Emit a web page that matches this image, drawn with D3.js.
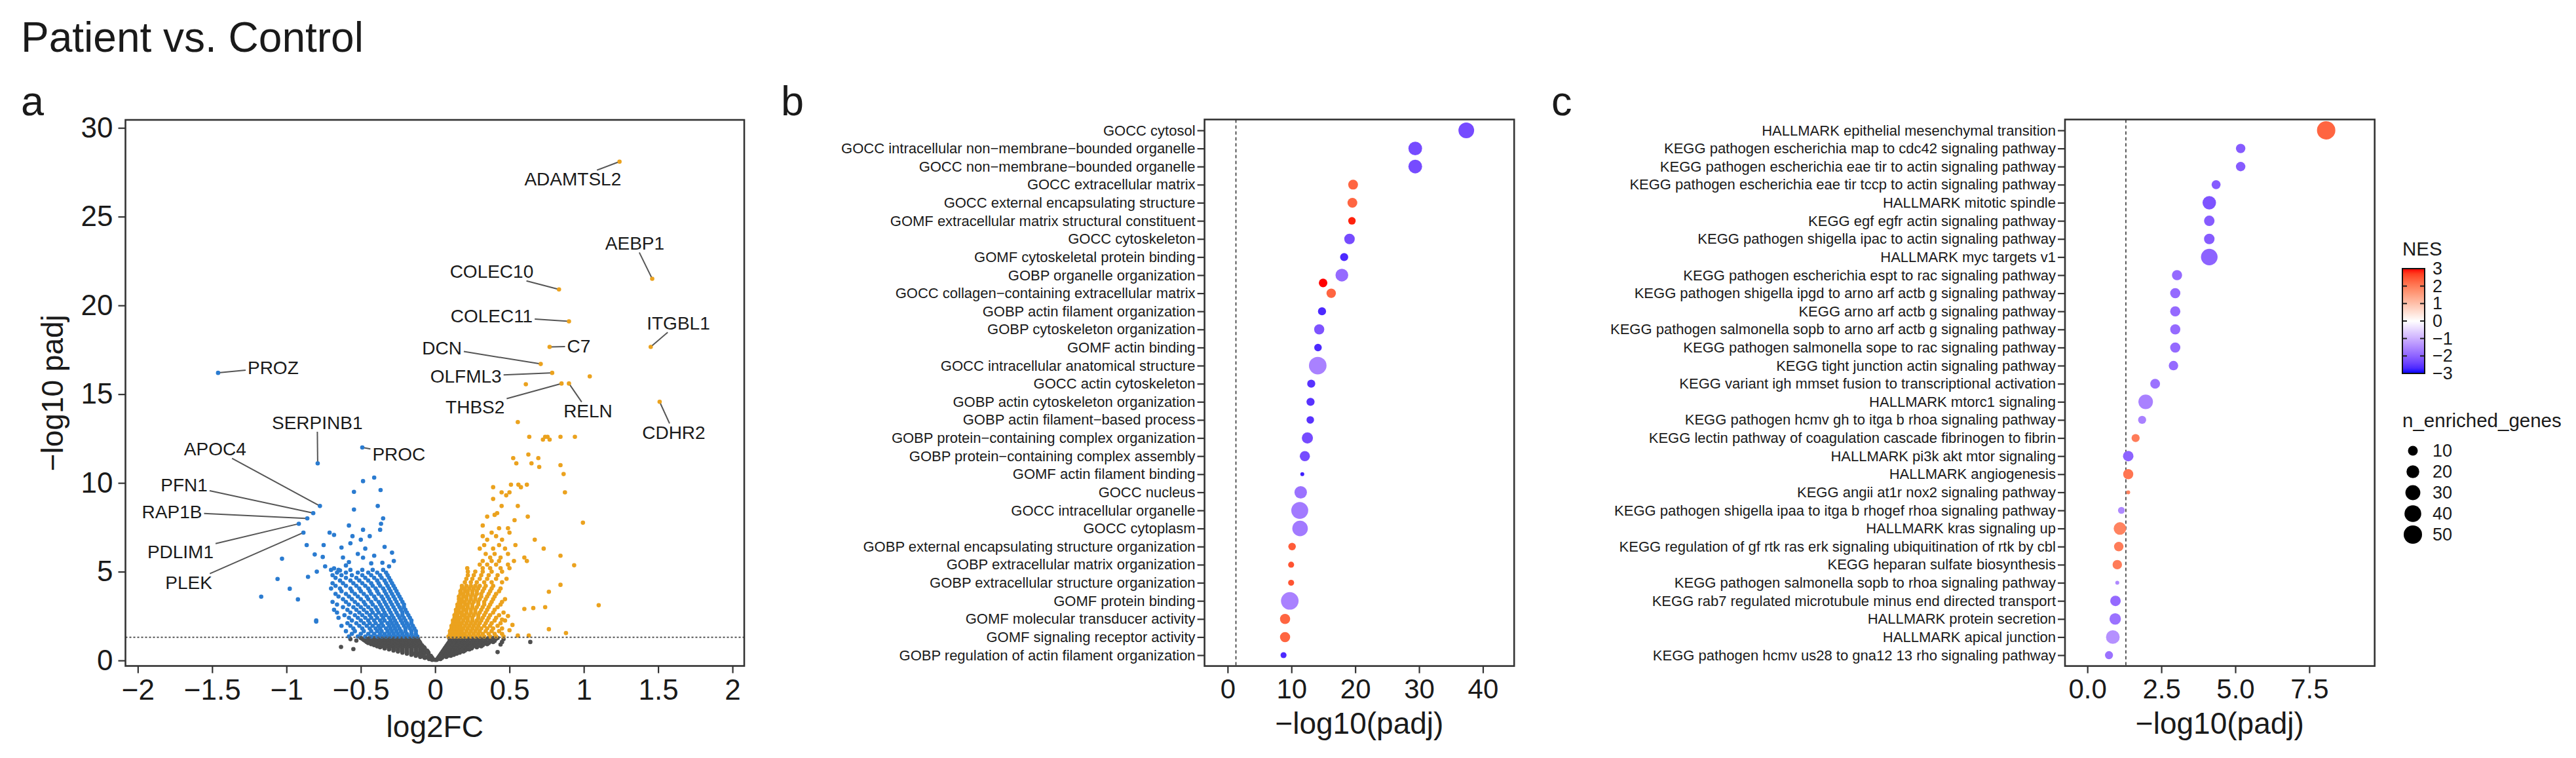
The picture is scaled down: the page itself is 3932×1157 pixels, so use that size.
<!DOCTYPE html>
<html><head><meta charset="utf-8">
<script src="https://cdn.jsdelivr.net/npm/d3@7/dist/d3.min.js"></script>
<style>
body{margin:0;background:#fff}
svg text{font-family:"Liberation Sans",Arial,Helvetica,sans-serif}
</style></head>
<body><svg id="chart" width="3932" height="1157"></svg>
<script>
// ======================= DATA =======================
// Panel a : volcano
const volcanoXTicks = [-2,-1.5,-1,-0.5,0,0.5,1,1.5,2];
const volcanoXTickLabels = ["−2","−1.5","−1","−0.5","0","0.5","1","1.5","2"];
const volcanoYTicks = [0,5,10,15,20,25,30];
const padjCut = 1.301;

// not significant (rows: -log10 padj, log2FC values)
const greyRows = [
 [0.03,[-0.02,0.01,0.0]],
 [0.08,[-0.04,-0.015,0.015,0.035]],
 [0.14,[-0.07,-0.045,-0.02,0.02,0.045]],
 [0.2,[-0.1,-0.075,-0.05,-0.025,0.025,0.05,0.075]],
 [0.26,[-0.13,-0.1,-0.075,-0.045,-0.03,0.03,0.06,0.085,0.105]],
 [0.32,[-0.16,-0.13,-0.105,-0.075,-0.045,0.035,0.065,0.095,0.125]],
 [0.38,[-0.19,-0.16,-0.135,-0.105,-0.075,-0.045,0.04,0.07,0.1,0.13,0.145]],
 [0.44,[-0.22,-0.19,-0.16,-0.13,-0.1,-0.07,-0.045,0.045,0.075,0.105,0.135,0.165]],
 [0.5,[-0.25,-0.22,-0.19,-0.16,-0.13,-0.1,-0.075,-0.05,0.05,0.08,0.11,0.14,0.17,0.19]],
 [0.56,[-0.28,-0.25,-0.22,-0.19,-0.16,-0.13,-0.1,-0.075,-0.055,0.055,0.085,0.115,0.145,0.175,0.2]],
 [0.62,[-0.31,-0.28,-0.25,-0.22,-0.19,-0.16,-0.13,-0.1,-0.075,0.06,0.09,0.12,0.15,0.18,0.21,0.23]],
 [0.68,[-0.34,-0.31,-0.28,-0.25,-0.22,-0.19,-0.16,-0.13,-0.1,-0.07,0.065,0.095,0.125,0.155,0.185,0.215,0.245]],
 [0.74,[-0.37,-0.34,-0.31,-0.28,-0.25,-0.22,-0.19,-0.16,-0.13,-0.1,-0.075,0.07,0.1,0.13,0.16,0.19,0.22,0.25,0.28]],
 [0.8,[-0.39,-0.36,-0.33,-0.3,-0.27,-0.24,-0.21,-0.18,-0.15,-0.12,-0.085,0.075,0.105,0.135,0.165,0.195,0.225,0.255,0.285,0.31]],
 [0.86,[-0.41,-0.38,-0.35,-0.32,-0.29,-0.26,-0.23,-0.2,-0.17,-0.14,-0.11,-0.09,0.08,0.11,0.14,0.17,0.2,0.23,0.26,0.29,0.32]],
 [0.92,[-0.43,-0.4,-0.37,-0.34,-0.31,-0.28,-0.25,-0.22,-0.19,-0.16,-0.13,-0.1,0.085,0.115,0.145,0.175,0.205,0.235,0.265,0.295,0.325,0.35]],
 [0.98,[-0.45,-0.42,-0.39,-0.36,-0.33,-0.3,-0.27,-0.24,-0.21,-0.18,-0.15,-0.12,-0.1,0.09,0.12,0.15,0.18,0.21,0.24,0.27,0.3,0.33,0.36]],
 [1.04,[-0.46,-0.43,-0.4,-0.37,-0.34,-0.31,-0.28,-0.25,-0.22,-0.19,-0.16,-0.13,-0.105,0.095,0.125,0.155,0.185,0.215,0.245,0.275,0.305,0.335,0.365,0.39]],
 [1.1,[-0.47,-0.44,-0.41,-0.38,-0.35,-0.32,-0.29,-0.26,-0.23,-0.2,-0.17,-0.14,-0.11,0.1,0.13,0.16,0.19,0.22,0.25,0.28,0.31,0.34,0.37,0.4]],
 [1.16,[-0.48,-0.45,-0.42,-0.39,-0.36,-0.33,-0.3,-0.27,-0.24,-0.21,-0.18,-0.15,-0.12,0.1,0.13,0.16,0.19,0.22,0.25,0.28,0.31,0.34,0.37,0.4]],
 [1.22,[-0.49,-0.46,-0.43,-0.4,-0.37,-0.34,-0.31,-0.28,-0.25,-0.22,-0.19,-0.16,-0.13,-0.115,0.1,0.13,0.16,0.19,0.22,0.25,0.28,0.31,0.34,0.37,0.41]],
 [1.27,[-0.5,-0.47,-0.44,-0.41,-0.38,-0.35,-0.32,-0.29,-0.26,-0.23,-0.2,-0.17,-0.14,-0.12,0.095,0.12,0.15,0.18,0.21,0.24,0.27,0.3,0.33,0.36,0.39,0.42]]
];
const greyExtra = [[-0.633,0.76],[-0.55,0.64],[0.45,1.04],[0.64,1.04],[0.42,0.47],[-0.53,1.12],[0.46,1.2],[-0.57,1.2],[0.44,0.9]];

// down-regulated (significant)
const blueRows = [
 [1.35,[-0.12,-0.15,-0.18,-0.21,-0.24,-0.27,-0.3,-0.33,-0.36,-0.39,-0.43,-0.47,-0.52,-0.58]],
 [1.5,[-0.13,-0.16,-0.19,-0.22,-0.25,-0.28,-0.31,-0.34,-0.37,-0.41,-0.45,-0.5,-0.56]],
 [1.65,[-0.13,-0.16,-0.2,-0.23,-0.26,-0.29,-0.32,-0.36,-0.39,-0.43,-0.48,-0.54,-0.6]],
 [1.8,[-0.14,-0.17,-0.2,-0.24,-0.27,-0.3,-0.33,-0.37,-0.4,-0.44,-0.49,-0.55]],
 [1.95,[-0.15,-0.18,-0.21,-0.25,-0.28,-0.31,-0.35,-0.38,-0.42,-0.46,-0.51,-0.57,-0.63]],
 [2.1,[-0.16,-0.19,-0.22,-0.26,-0.29,-0.32,-0.36,-0.4,-0.44,-0.48,-0.53,-0.59]],
 [2.25,[-0.16,-0.2,-0.23,-0.27,-0.3,-0.34,-0.37,-0.41,-0.45,-0.5,-0.56,-0.8]],
 [2.4,[-0.17,-0.21,-0.24,-0.28,-0.31,-0.35,-0.39,-0.43,-0.47,-0.52,-0.58,-0.65]],
 [2.55,[-0.18,-0.22,-0.25,-0.29,-0.33,-0.36,-0.4,-0.44,-0.49,-0.54,-0.61]],
 [2.7,[-0.19,-0.22,-0.26,-0.3,-0.34,-0.38,-0.42,-0.46,-0.51,-0.57,-0.66]],
 [2.85,[-0.2,-0.23,-0.27,-0.31,-0.35,-0.39,-0.43,-0.48,-0.53,-0.59,-0.68]],
 [3.0,[-0.21,-0.24,-0.28,-0.32,-0.36,-0.4,-0.45,-0.5,-0.55,-0.62]],
 [3.15,[-0.21,-0.25,-0.29,-0.33,-0.37,-0.42,-0.47,-0.52,-0.58,-0.66]],
 [3.3,[-0.22,-0.26,-0.3,-0.34,-0.38,-0.43,-0.48,-0.54,-0.6,-0.69]],
 [3.45,[-0.23,-0.27,-0.31,-0.35,-0.4,-0.45,-0.5,-0.56,-0.62]],
 [3.6,[-0.24,-0.28,-0.32,-0.36,-0.41,-0.46,-0.52,-0.58,-0.65]],
 [3.75,[-0.25,-0.29,-0.33,-0.38,-0.43,-0.48,-0.54,-0.6,-0.67]],
 [3.9,[-0.26,-0.3,-0.34,-0.39,-0.44,-0.5,-0.56,-0.63]],
 [4.05,[-0.27,-0.31,-0.35,-0.4,-0.45,-0.51,-0.57,-0.64,-0.7]],
 [4.2,[-0.28,-0.32,-0.37,-0.42,-0.47,-0.53,-0.6,-0.67]],
 [4.35,[-0.29,-0.33,-0.38,-0.43,-0.49,-0.55,-0.62,-0.69]],
 [4.5,[-0.3,-0.34,-0.39,-0.45,-0.51,-0.57,-0.64]],
 [4.65,[-0.31,-0.36,-0.41,-0.47,-0.53,-0.6,-0.67]],
 [4.8,[-0.32,-0.37,-0.43,-0.49,-0.56,-0.63,-0.69]],
 [4.95,[-0.33,-0.39,-0.45,-0.52,-0.6,-0.66]],
 [5.1,[-0.35,-0.42,-0.49,-0.57,-0.65,-0.7]]
];
const blueExtra = [[-0.41,10.3],[-0.485,10.1],[-0.367,9.6],[-0.546,9.5],[-0.386,8.7],[-0.546,8.5],[-0.35,8.0],[-0.364,7.7],
 [-0.58,7.6],[-0.485,7.36],[-0.71,7.2],[-0.68,7.07],[-0.556,7.0],[-0.37,7.36],[-0.57,6.6],[-0.864,6.5],[-0.75,6.5],
 [-0.63,6.36],[-0.47,6.3],[-0.81,5.97],[-0.29,6.07],[-0.756,5.83],[-1.03,5.73],[-0.485,5.79],[-0.278,5.6],[-0.58,5.54],
 [-0.68,5.19],[-0.64,5.07],[-0.43,5.47],[-0.355,5.5],[-0.796,5.0],[-0.855,4.71],[-1.06,4.59],[-0.978,4.04],[-1.17,3.59],
 [-0.923,3.44],[-0.8,2.19],[-0.52,6.0],[-0.41,5.9],[-0.62,5.8],[-0.34,6.4],[-0.5,6.8],[-0.44,7.0],[-0.6,5.35],[-0.31,5.3],[-0.74,5.3]];

// up-regulated (significant)
const orangeRows = [
 [1.35,[0.09,0.11,0.13,0.15,0.17,0.19,0.21,0.24,0.27,0.3,0.33,0.37,0.41,0.46]],
 [1.5,[0.1,0.12,0.14,0.16,0.18,0.2,0.23,0.26,0.29,0.32,0.36,0.4,0.45]],
 [1.65,[0.1,0.12,0.14,0.16,0.18,0.21,0.24,0.27,0.3,0.34,0.38,0.43]],
 [1.8,[0.11,0.13,0.15,0.17,0.19,0.22,0.25,0.28,0.31,0.35,0.39,0.45]],
 [1.95,[0.11,0.13,0.15,0.17,0.2,0.23,0.26,0.29,0.33,0.37,0.42]],
 [2.1,[0.12,0.14,0.16,0.18,0.21,0.24,0.27,0.3,0.34,0.38,0.44]],
 [2.25,[0.12,0.14,0.16,0.19,0.22,0.25,0.28,0.31,0.35,0.4,0.47]],
 [2.4,[0.13,0.15,0.17,0.2,0.22,0.25,0.29,0.32,0.36,0.41]],
 [2.55,[0.13,0.15,0.18,0.2,0.23,0.26,0.29,0.33,0.37,0.43]],
 [2.7,[0.14,0.16,0.18,0.21,0.24,0.27,0.3,0.34,0.39,0.46]],
 [2.85,[0.14,0.16,0.19,0.21,0.24,0.27,0.31,0.35,0.4]],
 [3.0,[0.15,0.17,0.19,0.22,0.25,0.28,0.32,0.36,0.42]],
 [3.15,[0.15,0.17,0.2,0.22,0.25,0.29,0.33,0.37,0.44]],
 [3.3,[0.16,0.18,0.2,0.23,0.26,0.29,0.33,0.38,0.45]],
 [3.45,[0.16,0.18,0.21,0.24,0.27,0.3,0.34,0.39,0.47]],
 [3.6,[0.16,0.19,0.21,0.24,0.27,0.31,0.35,0.4]],
 [3.75,[0.17,0.19,0.22,0.25,0.28,0.31,0.36,0.41]],
 [3.9,[0.17,0.2,0.22,0.25,0.28,0.32,0.37,0.43]],
 [4.05,[0.18,0.2,0.23,0.26,0.29,0.33,0.38,0.44]],
 [4.2,[0.18,0.21,0.24,0.27,0.3,0.34,0.39]],
 [4.4,[0.2,0.24,0.28,0.33,0.38,0.45]],
 [4.6,[0.21,0.25,0.3,0.35,0.41,0.48]],
 [4.8,[0.22,0.26,0.31,0.36,0.42]],
 [5.0,[0.22,0.27,0.32,0.38,0.45]],
 [5.2,[0.216,0.32,0.37,0.44,0.5]],
 [5.4,[0.3,0.35,0.41,0.49]],
 [5.6,[0.32,0.38,0.43,0.53,0.617]],
 [5.8,[0.37,0.44,0.6]],
 [6.0,[0.34,0.4,0.49]],
 [6.3,[0.3,0.39,0.47,0.73]],
 [6.5,[0.33,0.43,0.54]],
 [6.8,[0.35,0.45,0.67]],
 [7.0,[0.32,0.41]],
 [7.2,[0.38,0.5]],
 [7.45,[0.43,0.49]],
 [7.6,[0.32]],
 [7.76,[0.994]],
 [7.9,[0.534]],
 [8.1,[0.623,0.35]],
 [8.2,[0.4]],
 [8.3,[0.417]],
 [8.7,[0.447,0.556]],
 [9.1,[0.39]],
 [9.3,[0.478]],
 [9.47,[0.5,0.447,0.873]],
 [9.76,[0.39,0.577]],
 [9.9,[0.56,0.51,0.617]],
 [10.5,[0.864]],
 [10.9,[0.7]],
 [11.0,[0.843]],
 [11.1,[0.546,0.648]],
 [11.4,[0.525,0.694]],
 [11.6,[0.627]],
 [12.44,[0.725,0.77]],
 [12.6,[0.633,0.74,0.756,0.843,0.94]],
 [13.43,[0.556]]
];
const orangeExtra = [[0.61,15.56],[1.04,16.0],[0.843,5.9],[0.935,5.36],[0.843,4.26],[0.765,3.87],[1.10,3.11],[0.6,2.9],
 [0.66,2.95],[0.74,3.0],[0.49,2.5],[0.45,2.3],[0.765,1.76],[0.88,1.54],[0.63,1.4],[0.556,1.4],[0.5,1.7],[0.52,2.0]];

// labelled genes
const geneNames = ["ADAMTSL2","AEBP1","COLEC10","COLEC11","ITGBL1","C7","DCN","PROZ","OLFML3","THBS2","RELN","CDHR2",
                   "SERPINB1","PROC","APOC4","PFN1","RAP1B","PDLIM1","PLEK"];
const geneLog2FC = [1.24,1.46,0.833,0.90,1.45,0.77,0.71,-1.46,0.787,0.85,0.90,1.51,-0.79,-0.49,-0.775,-0.82,-0.86,-0.917,-0.886];
const genePadj   = [28.1,21.5,20.9,19.1,17.66,17.66,16.7,16.2,16.2,15.6,15.6,14.57,11.1,12.0,8.7,8.3,8.0,7.7,7.2];
// repelled label anchors (data units)
const geneLabelX = [0.926,1.343,0.38,0.38,1.636,0.966,0.046,-1.09,0.207,0.269,1.028,1.605,-0.793,-0.244,-1.48,-1.688,-1.77,-1.713,-1.657];
const geneLabelY = [27.1,23.5,21.9,19.4,19.0,17.7,17.6,16.5,16.0,14.26,14.04,12.83,13.4,11.6,11.9,9.87,8.37,6.11,4.37];

// Panel b : GO enrichment
const goTerms = ["GOCC cytosol","GOCC intracellular non−membrane−bounded organelle","GOCC non−membrane−bounded organelle",
 "GOCC extracellular matrix","GOCC external encapsulating structure","GOMF extracellular matrix structural constituent",
 "GOCC cytoskeleton","GOMF cytoskeletal protein binding","GOBP organelle organization","GOCC collagen−containing extracellular matrix",
 "GOBP actin filament organization","GOBP cytoskeleton organization","GOMF actin binding","GOCC intracellular anatomical structure",
 "GOCC actin cytoskeleton","GOBP actin cytoskeleton organization","GOBP actin filament−based process",
 "GOBP protein−containing complex organization","GOBP protein−containing complex assembly","GOMF actin filament binding",
 "GOCC nucleus","GOCC intracellular organelle","GOCC cytoplasm","GOBP external encapsulating structure organization",
 "GOBP extracellular matrix organization","GOBP extracellular structure organization","GOMF protein binding",
 "GOMF molecular transducer activity","GOMF signaling receptor activity","GOBP regulation of actin filament organization"];
const goLogPadj = [37.4,29.4,29.4,19.66,19.55,19.48,19.1,18.26,17.9,16.23,14.79,14.35,14.16,14.12,13.1,12.99,12.95,12.5,12.1,11.7,
 11.45,11.3,11.35,10.1,9.95,9.95,9.74,9.0,9.0,8.76];
const goNES = [-2.3,-2.3,-2.3,2.3,2.3,2.9,-2.3,-2.7,-1.9,2.3,-2.7,-2.2,-2.7,-1.6,-2.6,-2.6,-2.6,-2.3,-2.3,-2.8,-1.8,-1.7,-1.7,
 2.4,2.5,2.5,-1.6,2.3,2.3,-2.7];
const goGenes = [34,24,24,10,10,5,12,6,20,9,6,11,5,45,6,6,5,14,11,2,19,41,33,5,3,3,45,11,11,3];
// second (overlapping) entry of one term
const goDupTerm = "GOCC collagen−containing extracellular matrix";
const goDupLogPadj = 14.96, goDupNES = 3.0, goDupGenes = 7;
const goXTicks = [0,10,20,30,40];

// Panel c : Hallmark / KEGG enrichment
const pwTerms = ["HALLMARK epithelial mesenchymal transition","KEGG pathogen escherichia map to cdc42 signaling pathway",
 "KEGG pathogen escherichia eae tir to actin signaling pathway","KEGG pathogen escherichia eae tir tccp to actin signaling pathway",
 "HALLMARK mitotic spindle","KEGG egf egfr actin signaling pathway","KEGG pathogen shigella ipac to actin signaling pathway",
 "HALLMARK myc targets v1","KEGG pathogen escherichia espt to rac signaling pathway",
 "KEGG pathogen shigella ipgd to arno arf actb g signaling pathway","KEGG arno arf actb g signaling pathway",
 "KEGG pathogen salmonella sopb to arno arf actb g signaling pathway","KEGG pathogen salmonella sope to rac signaling pathway",
 "KEGG tight junction actin signaling pathway","KEGG variant igh mmset fusion to transcriptional activation",
 "HALLMARK mtorc1 signaling","KEGG pathogen hcmv gh to itga b rhoa signaling pathway",
 "KEGG lectin pathway of coagulation cascade fibrinogen to fibrin","HALLMARK pi3k akt mtor signaling","HALLMARK angiogenesis",
 "KEGG angii at1r nox2 signaling pathway","KEGG pathogen shigella ipaa to itga b rhogef rhoa signaling pathway",
 "HALLMARK kras signaling up","KEGG regulation of gf rtk ras erk signaling ubiquitination of rtk by cbl",
 "KEGG heparan sulfate biosynthesis","KEGG pathogen salmonella sopb to rhoa signaling pathway",
 "KEGG rab7 regulated microtubule minus end directed transport","HALLMARK protein secretion","HALLMARK apical junction",
 "KEGG pathogen hcmv us28 to gna12 13 rho signaling pathway"];
const pwLogPadj = [8.07,5.18,5.18,4.35,4.12,4.12,4.12,4.12,3.03,2.97,2.97,2.97,2.97,2.91,2.29,1.97,1.85,1.63,1.38,1.38,1.38,
 1.15,1.1,1.06,1.01,1.01,0.95,0.94,0.86,0.73];
const pwNES = [2.3,-2.1,-2.1,-2.1,-2.2,-2.1,-2.1,-2.0,-1.9,-1.9,-1.9,-1.9,-1.9,-1.9,-1.8,-1.6,-1.6,2.0,-2.0,2.1,1.9,-1.5,1.9,
 2.0,2.0,-1.5,-1.9,-1.8,-1.4,-1.8];
const pwGenes = [50,9,9,8,23,12,12,39,11,11,11,11,11,9,10,28,6,6,12,11,2,4,19,9,9,2,12,15,24,6];
const pwXTicks = [0,2.5,5,7.5];

// Legends
const nesTicks = [3,2,1,0,-1,-2,-3];
const sizeBreaks = [10,20,30,40,50];

// ======================= DRAW =======================
const svg = d3.select("#chart");
const INK = "#1a1a1a", FRAME = "#333";

svg.append("text").attr("x",32).attr("y",79).attr("font-size",64).attr("fill",INK).text("Patient vs. Control");
[["a",32],["b",1192],["c",2368]].forEach(([t,x])=>svg.append("text").attr("x",x).attr("y",176).attr("font-size",63).attr("fill",INK).text(t));

function styleAxis(g, fs){
  g.select(".domain").remove();
  g.selectAll(".tick line").attr("stroke",FRAME).attr("stroke-width",2.2);
  g.selectAll(".tick text").attr("font-size",fs).attr("fill",INK);
}
function frame(x0,x1,y0,y1){
  svg.append("rect").attr("x",x0).attr("y",y0).attr("width",x1-x0).attr("height",y1-y0)
    .attr("fill","none").attr("stroke",FRAME).attr("stroke-width",2.6);
}

// ---------- Panel a ----------
const A = {l:191.5, r:1136, t:183, b:1016.5};
const vx = d3.scaleLinear().domain([-2.083,2.079]).range([A.l,A.r]);
const vy = d3.scaleLinear().domain([-0.31,30.45]).range([A.b,A.t]);
const rows2pts = rows => rows.flatMap(([y,xs]) => xs.map(x => [x,y]));
const greyPts = rows2pts(greyRows).concat(greyExtra);
const bluePts = rows2pts(blueRows).concat(blueExtra);
const orangePts = rows2pts(orangeRows).concat(orangeExtra);
const COL_DOWN="#2a7bd0", COL_UP="#eba21e", COL_NS="#4f4f4f";
const gA = svg.append("g");
function dots(pts,col){
  gA.append("g").selectAll("circle").data(pts).join("circle")
    .attr("cx",d=>vx(d[0])).attr("cy",d=>vy(d[1])).attr("r",3.3).attr("fill",col);
}
dots(greyPts,COL_NS); dots(bluePts,COL_DOWN); dots(orangePts,COL_UP);
gA.append("line").attr("x1",A.l).attr("x2",A.r).attr("y1",vy(padjCut)).attr("y2",vy(padjCut))
  .attr("stroke","#555").attr("stroke-width",2).attr("stroke-dasharray","3,3");
// labelled genes
const gLab = svg.append("g");
geneNames.forEach((name,i)=>{
  const px = vx(geneLog2FC[i]), py = vy(genePadj[i]);
  const col = geneLog2FC[i] < 0 ? COL_DOWN : COL_UP;
  const t = gLab.append("text").attr("x",vx(geneLabelX[i])).attr("y",vy(geneLabelY[i]))
     .attr("text-anchor","middle").attr("dominant-baseline","central").attr("font-size",28).attr("fill",INK).text(name);
  const bb = t.node().getBBox();
  const cx = bb.x+bb.width/2, cy = vy(geneLabelY[i]);
  const hw = bb.width/2+3, hh = 14;
  const dx = px-cx, dy = py-cy;
  const s = Math.min(dx===0?Infinity:hw/Math.abs(dx), dy===0?Infinity:hh/Math.abs(dy));
  if (s < 1) {
    const sx = cx+dx*s, sy = cy+dy*s;
    const L = Math.hypot(px-sx,py-sy);
    const ex = px-(px-sx)/L*3, ey = py-(py-sy)/L*3;
    gLab.insert("line","text").attr("x1",sx).attr("y1",sy).attr("x2",ex).attr("y2",ey)
      .attr("stroke","#555").attr("stroke-width",2);
  }
  gA.append("circle").attr("cx",px).attr("cy",py).attr("r",3.3).attr("fill",col);
});
frame(A.l,A.r,A.t,A.b);
styleAxis(svg.append("g").attr("transform",`translate(0,${A.b})`)
  .call(d3.axisBottom(vx).tickValues(volcanoXTicks).tickFormat((d,i)=>volcanoXTickLabels[i]).tickSize(11).tickPadding(9)),44);
styleAxis(svg.append("g").attr("transform",`translate(${A.l},0)`)
  .call(d3.axisLeft(vy).tickValues(volcanoYTicks).tickSize(11).tickPadding(8)),44);
svg.append("text").attr("x",(A.l+A.r)/2).attr("y",1125).attr("text-anchor","middle").attr("font-size",46).attr("fill",INK).text("log2FC");
svg.append("text").attr("transform",`translate(96,${(A.t+A.b)/2}) rotate(-90)`).attr("text-anchor","middle")
  .attr("font-size",46).attr("fill",INK).text("−log10 padj");

// ---------- shared scales for b & c ----------
const nesColor = d3.scaleLinear().domain([-3,0,3]).range(["#0000ff","#ffffff","#ff0000"]).interpolate(d3.interpolateLab).clamp(true);
const sizeNorm = d3.scaleLinear().domain([2,50]).range([0,1]).clamp(true);
const radius = d3.scaleLinear().domain([0,1]).range([3,14]);
const rOf = n => radius(Math.sqrt(sizeNorm(n)));

function dotPanel(P, terms, xs, nes, genes, xDomain, ticks, fmt, dup){
  const x = d3.scaleLinear().domain(xDomain).range([P.l,P.r]);
  const y = d3.scalePoint().domain(terms).range([P.t,P.b]).padding(0.6);
  const g = svg.append("g");
  g.append("line").attr("x1",x(padjCut)).attr("x2",x(padjCut)).attr("y1",P.t).attr("y2",P.b)
    .attr("stroke","#333").attr("stroke-width",1.6).attr("stroke-dasharray","5,4");
  const data = terms.map((t,i)=>({t, v:xs[i], nes:nes[i], n:genes[i], off:0}));
  if (dup) data.push({t:dup.t, v:dup.v, nes:dup.nes, n:dup.n, off:-0.57});
  g.selectAll("circle").data(data).join("circle")
    .attr("cx",d=>x(d.v)).attr("cy",d=>y(d.t)+d.off*y.step()).attr("r",d=>rOf(d.n)).attr("fill",d=>nesColor(d.nes));
  frame(P.l,P.r,P.t,P.b);
  styleAxis(svg.append("g").attr("transform",`translate(0,${P.b})`)
    .call(d3.axisBottom(x).tickValues(ticks).tickFormat(fmt).tickSize(11).tickPadding(9)),42);
  styleAxis(svg.append("g").attr("transform",`translate(${P.l},0)`)
    .call(d3.axisLeft(y).tickSize(11).tickPadding(3)),22);
  svg.append("text").attr("x",(P.l+P.r)/2).attr("y",1120).attr("text-anchor","middle").attr("font-size",46).attr("fill",INK).text("−log10(padj)");
}
dotPanel({l:1838.6,r:2311.2,t:182.4,b:1016.6}, goTerms, goLogPadj, goNES, goGenes, [-3.62,44.9], goXTicks, d3.format("d"),
  {t:goDupTerm, v:goDupLogPadj, nes:goDupNES, n:goDupGenes});
dotPanel({l:3152,r:3624.7,t:182.4,b:1016.6}, pwTerms, pwLogPadj, pwNES, pwGenes, [-0.757,9.71], pwXTicks, d3.format(".1f"), null);

// ---------- Legends ----------
const LG = {x:3667, w:34, t:410, b:570};
svg.append("text").attr("x",LG.x).attr("y",390).attr("font-size",29.5).attr("fill",INK).text("NES");
const defs = svg.append("defs");
const grad = defs.append("linearGradient").attr("id","nesgrad").attr("x1",0).attr("x2",0).attr("y1",0).attr("y2",1);
d3.range(0,21).forEach(i=>{ const v = 3 - i*0.3; grad.append("stop").attr("offset",(i/20)).attr("stop-color",nesColor(v)); });
svg.append("rect").attr("x",LG.x).attr("y",LG.t).attr("width",LG.w).attr("height",LG.b-LG.t).attr("fill","url(#nesgrad)");
const ny = d3.scaleLinear().domain([-3,3]).range([LG.b,LG.t]);
nesTicks.forEach(v=>{
  if (v!==3 && v!==-3){
    svg.append("line").attr("x1",LG.x).attr("x2",LG.x+7).attr("y1",ny(v)).attr("y2",ny(v)).attr("stroke","#222").attr("stroke-width",2);
    svg.append("line").attr("x1",LG.x+LG.w-7).attr("x2",LG.x+LG.w).attr("y1",ny(v)).attr("y2",ny(v)).attr("stroke","#222").attr("stroke-width",2);
  }
  svg.append("text").attr("x",LG.x+LG.w+12).attr("y",ny(v)).attr("dominant-baseline","central").attr("font-size",27).attr("fill",INK)
    .text(v<0?"−"+Math.abs(v):String(v));
});
svg.append("rect").attr("x",LG.x).attr("y",LG.t).attr("width",LG.w).attr("height",LG.b-LG.t).attr("fill","none").attr("stroke","#111").attr("stroke-width",2);
svg.append("text").attr("x",LG.x).attr("y",652).attr("font-size",29.5).attr("fill",INK).text("n_enriched_genes");
const sy = d3.scalePoint().domain(sizeBreaks).range([688,816]);
sizeBreaks.forEach(n=>{
  svg.append("circle").attr("cx",3683).attr("cy",sy(n)).attr("r",rOf(n)).attr("fill","#000");
  svg.append("text").attr("x",3713).attr("y",sy(n)).attr("dominant-baseline","central").attr("font-size",27).attr("fill",INK).text(n);
});
</script></body></html>
